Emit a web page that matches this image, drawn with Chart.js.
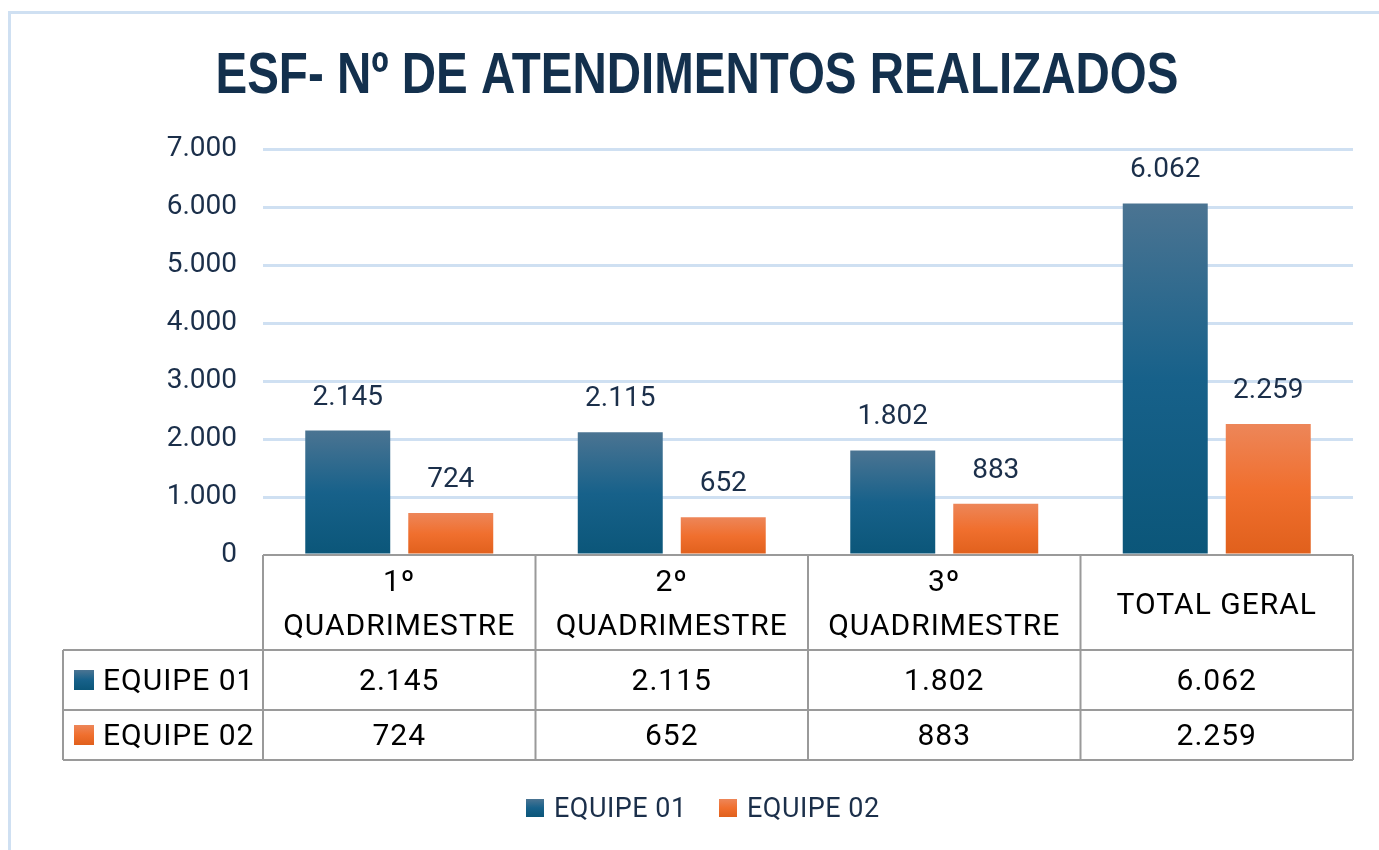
<!DOCTYPE html>
<html>
<head>
<meta charset="utf-8">
<script src="https://cdn.jsdelivr.net/npm/chart.js@4.4.1/dist/chart.umd.min.js"></script>
<style>
  html, body { margin: 0; padding: 0; background: #fff; overflow: hidden; }
</style>
</head>
<body>
<canvas id="graficoAtendimentos" width="1379" height="850"></canvas>
<script>
// dados do gráfico
const titulo = 'ESF- Nº DE ATENDIMENTOS REALIZADOS';
const categorias = [['1º', 'QUADRIMESTRE'], ['2º', 'QUADRIMESTRE'], ['3º', 'QUADRIMESTRE'], ['TOTAL GERAL']];
const nomesSeries = ['EQUIPE 01', 'EQUIPE 02'];
const equipe01 = [2145, 2115, 1802, 6062];
const equipe02 = [724, 652, 883, 2259];
const eixoMin = 0;
const eixoMax = 7000;
const eixoPasso = 1000;

const corAzul = ['#4b7492', '#17618a', '#0b5679'];
const corLaranja = ['#ed8659', '#f06f2e', '#e0601c'];
const corTexto = '#1b2f4a';
const fonte = 'Roboto, "Noto Sans", sans-serif';

// formata número no padrão pt-BR (2.145)
function fmt(v) {
    return String(v).replace(/\B(?=(\d{3})+(?!\d))/g, '.');
}

function gradienteVertical(ctx, topo, base, cores) {
    const g = ctx.createLinearGradient(0, topo, 0, base);
    g.addColorStop(0, cores[0]);
    g.addColorStop(0.5, cores[1]);
    g.addColorStop(1, cores[2]);
    return g;
}

// cada barra com seu próprio degradê
function corBarra(cores) {
    return function (context) {
        const chart = context.chart;
        const y = chart.scales.y;
        if (context.type !== 'data' || !y || !chart.chartArea) return cores[2];
        const topo = y.getPixelForValue(context.raw);
        const base = y.getPixelForValue(0);
        if (!isFinite(topo) || !isFinite(base)) return cores[2];
        return gradienteVertical(chart.ctx, topo, base, cores);
    };
}

const coresSeries = [corAzul, corLaranja];

const pluginExtras = {
    id: 'extras',
    beforeDraw(chart) {
        const ctx = chart.ctx;
        ctx.save();
        ctx.fillStyle = '#fff';
        ctx.fillRect(0, 0, chart.width, chart.height);
        // borda da área do gráfico
        ctx.strokeStyle = '#cfe0f2';
        ctx.lineWidth = 3;
        ctx.strokeRect(9.5, 12.5, 1500, 1000);
        ctx.restore();
    },
    afterDatasetsDraw(chart) {
        const ctx = chart.ctx;
        const x = chart.scales.x;
        const area = chart.chartArea;
        ctx.save();

        // título
        ctx.font = 'bold 58px "Liberation Sans Narrow", "Liberation Sans", sans-serif';
        ctx.fillStyle = '#13304d';
        ctx.textAlign = 'center';
        ctx.textBaseline = 'middle';
        const larg = ctx.measureText(titulo).width;
        const escala = 963 / larg;
        ctx.save();
        ctx.translate(697, 77);
        ctx.scale(escala, 1);
        ctx.fillText(titulo, 0, 0);
        ctx.restore();

        // rótulos de dados
        ctx.font = '28px ' + fonte;
        ctx.fillStyle = corTexto;
        ctx.textAlign = 'center';
        ctx.textBaseline = 'middle';
        chart.data.datasets.forEach((ds, i) => {
            const meta = chart.getDatasetMeta(i);
            meta.data.forEach((bar, j) => {
                ctx.fillText(fmt(ds.data[j]), bar.x, bar.y - 33);
            });
        });

        // tabela de dados
        const metade = (x.getPixelForValue(1) - x.getPixelForValue(0)) / 2;
        const topo = area.bottom;
        const linhas = [topo, 650, 710, 760];
        const esq = 63;
        ctx.strokeStyle = '#9a9a9a';
        ctx.lineWidth = 2;
        ctx.beginPath();
        ctx.moveTo(area.left, linhas[0]); ctx.lineTo(area.right, linhas[0]);
        for (let k = 1; k < linhas.length; k++) {
            ctx.moveTo(esq, linhas[k]); ctx.lineTo(area.right, linhas[k]);
        }
        ctx.moveTo(esq, linhas[1]); ctx.lineTo(esq, linhas[3]);
        for (let j = 0; j < categorias.length; j++) {
            const xc = x.getPixelForValue(j) - metade;
            ctx.moveTo(xc, linhas[0]); ctx.lineTo(xc, linhas[3]);
        }
        ctx.moveTo(area.right, linhas[0]); ctx.lineTo(area.right, linhas[3]);
        ctx.stroke();

        ctx.fillStyle = '#000';
        ctx.font = '30px ' + fonte;
        ctx.letterSpacing = '1px';
        categorias.forEach((cat, j) => {
            const xc = x.getPixelForValue(j);
            if (cat.length === 2) {
                ctx.fillText(cat[0], xc, 583);
                ctx.fillText(cat[1], xc, 627);
            } else {
                ctx.fillText(cat[0], xc, 606);
            }
        });
        const yLinhas = [682, 737];
        chart.data.datasets.forEach((ds, i) => {
            ctx.textAlign = 'center';
            ctx.fillStyle = '#000';
            ds.data.forEach((v, j) => {
                ctx.fillText(fmt(v), x.getPixelForValue(j), yLinhas[i]);
            });
            const yq = yLinhas[i] - 12;
            ctx.fillStyle = gradienteVertical(ctx, yq, yq + 20, coresSeries[i]);
            ctx.fillRect(74, yq, 20, 20);
            ctx.fillStyle = '#000';
            ctx.textAlign = 'left';
            ctx.fillText(ds.label, 103, yLinhas[i]);
        });

        // legenda inferior
        ctx.font = '27px ' + fonte;
        ctx.letterSpacing = '0.5px';
        const posLegenda = [526, 719];
        chart.data.datasets.forEach((ds, i) => {
            const xq = posLegenda[i];
            ctx.fillStyle = gradienteVertical(ctx, 799, 817, coresSeries[i]);
            ctx.fillRect(xq, 799, 18, 18);
            ctx.fillStyle = corTexto;
            ctx.textAlign = 'left';
            ctx.fillText(ds.label, xq + 28, 810);
        });

        ctx.restore();
    }
};

const ctx = document.getElementById('graficoAtendimentos').getContext('2d');
new Chart(ctx, {
    type: 'bar',
    data: {
        labels: categorias,
        datasets: [
            {
                label: nomesSeries[0],
                data: equipe01,
                backgroundColor: corBarra(corAzul),
                categoryPercentage: 0.756,
                barPercentage: 0.825
            },
            {
                label: nomesSeries[1],
                data: equipe02,
                backgroundColor: corBarra(corLaranja),
                categoryPercentage: 0.756,
                barPercentage: 0.825
            }
        ]
    },
    options: {
        responsive: false,
        animation: false,
        devicePixelRatio: 1,
        layout: { padding: { left: 0, right: 26, top: 149, bottom: 295 } },
        plugins: {
            legend: { display: false },
            title: { display: false },
            tooltip: { enabled: false }
        },
        scales: {
            x: {
                display: false
            },
            y: {
                min: eixoMin,
                max: eixoMax,
                afterFit(scale) { scale.width = 263; },
                ticks: {
                    stepSize: eixoPasso,
                    padding: 26,
                    color: corTexto,
                    font: { family: fonte, size: 28 },
                    callback: v => fmt(v)
                },
                grid: {
                    color: ctx => ctx.tick && ctx.tick.value === 0 ? 'rgba(0,0,0,0)' : '#cfe0f2',
                    lineWidth: 3,
                    drawTicks: false
                },
                border: { display: false }
            }
        }
    },
    plugins: [pluginExtras]
});
</script>
</body>
</html>
